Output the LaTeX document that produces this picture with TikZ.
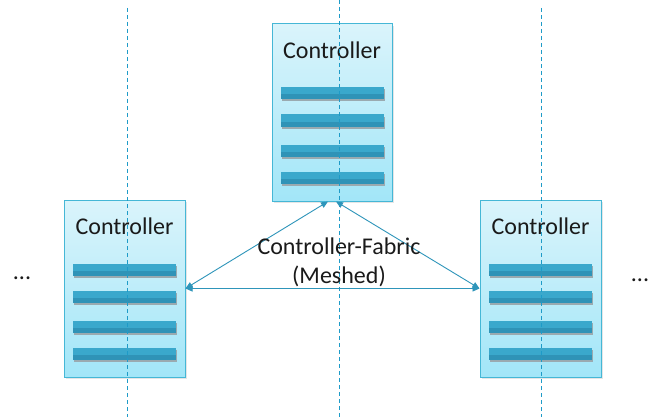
\documentclass[tikz,border=0pt]{standalone}
\usepackage{fontspec}
\setmainfont{Carlito}
\usetikzlibrary{arrows.meta,calc,shadows}
\definecolor{boxtop}{HTML}{DAF4FB}
\definecolor{boxbot}{HTML}{A2E6F8}
\definecolor{boxline}{HTML}{45B7D6}
\definecolor{barmain}{HTML}{3AA8CC}
\definecolor{bardark}{HTML}{2F93B7}
\definecolor{barshadow}{HTML}{9AAAB0}
\definecolor{guide}{HTML}{1E9BC8}
\definecolor{link}{HTML}{2E95BA}
\definecolor{ink}{HTML}{1A1A1A}
\tikzset{
  ctrlbox/.style={draw=boxline, line width=1pt, top color=boxtop, bottom color=boxbot,
    minimum width=120pt, minimum height=177pt, inner sep=0pt,
    drop shadow={shadow xshift=1.5pt, shadow yshift=-2pt, fill=gray!40, opacity=0.5}},
  ctrllabel/.style={text=ink, font=\fontsize{24}{29}\selectfont, inner sep=0pt},
  guideline/.style={draw=guide, line width=1pt, dash pattern=on 4pt off 3pt},
  linkline/.style={draw=link, line width=0.9pt, {Triangle[length=7pt,width=6pt]}-{Triangle[length=7pt,width=6pt]}},
}
\newcommand{\ctrlbars}[1]{%
  \foreach \dy in {64,91,121,148}{
    \fill[barshadow] ($(#1.north west)+(10,\dy+2)$) rectangle ++(103,12);
    \fill[barmain] ($(#1.north west)+(9,\dy)$) rectangle ++(103,12);
    \fill[bardark] ($(#1.north west)+(9,\dy+7)$) rectangle ++(103,5);
  }
  \node[ctrllabel] (#1lab) at ($(#1.north)+(0,27)$) {Controller};
}
\begin{document}
\begin{tikzpicture}[x=1pt,y=-1pt]
\useasboundingbox (0,0) rectangle (663,417);
\fill[white] (0,0) rectangle (663,417);
% boxes
\node[ctrlbox] (T) at (332,112.5) {};
\node[ctrlbox, minimum width=121pt] (L) at (124.5,288.5) {};
\node[ctrlbox, minimum width=121pt] (R) at (540.5,288.5) {};
\ctrlbars{T}
\ctrlbars{L}
\ctrlbars{R}
% guide lines
\coordinate (g1a) at (127.5,8);   \coordinate (g1b) at (127.5,417);
\coordinate (g2a) at (339.5,0);   \coordinate (g2b) at (339.5,417);
\coordinate (g3a) at (541.5,8);   \coordinate (g3b) at (541.5,417);
\draw[guideline] (g1a) -- (g1b);
\draw[guideline] (g2a) -- (g2b);
\draw[guideline] (g3a) -- (g3b);
% links
\draw[linkline] (L.east) -- (R.west);
\draw[linkline] (L.east) -- ($(T.south)+(-4,0)$);
\draw[linkline] ($(T.south)+(4,0)$) -- (R.west);
% labels
\node[ctrllabel, align=center] (fab) at (339,262.5) {Controller-Fabric\\(Meshed)};
\node[ctrllabel] (dl) at (22,278) {...};
\node[ctrllabel] (dr) at (640,280) {...};
\end{tikzpicture}
\end{document}
